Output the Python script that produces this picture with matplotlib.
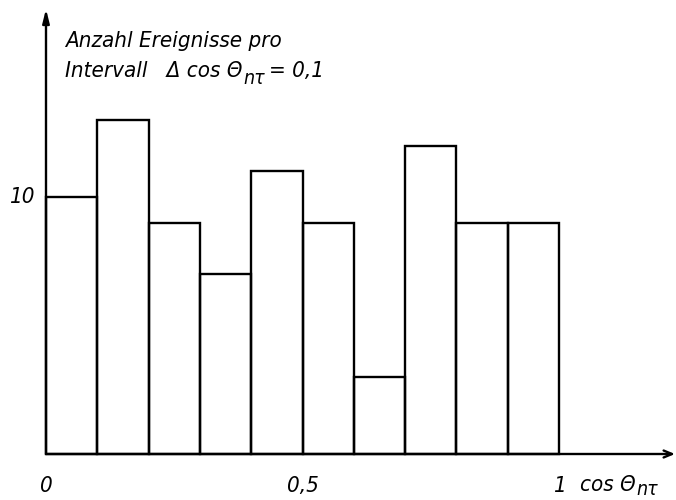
import matplotlib
matplotlib.use("Agg")
import matplotlib.pyplot as plt

# Data
bin_left = [0.0, 0.1, 0.2, 0.3, 0.4, 0.5, 0.6, 0.7, 0.8, 0.9]
counts = [10, 13, 9, 7, 11, 9, 3, 12, 9, 9]
bin_width = 0.1
x_ticks = [0, 0.5, 1]
x_tick_labels = ["0", "0,5", "1"]
y_ticks = [10]
y_tick_labels = ["10"]

plt.rcParams["font.family"] = ["DejaVu Sans"]
plt.rcParams["font.stretch"] = "condensed"

W, H = 676, 500
fig = plt.figure(figsize=(W / 100, H / 100), dpi=100)
x0_px, y0_px = 46, 454
px_per_x = 513.0
px_per_y = 25.7
ax = fig.add_axes([x0_px / W, (H - y0_px) / H, (W - x0_px) / W, y0_px / H])
ax.set_xlim(0, (W - x0_px) / px_per_x)
ax.set_ylim(0, y0_px / px_per_y)
for s in ax.spines.values():
    s.set_visible(False)
ax.set_xticks([])
ax.set_yticks([])
ax.patch.set_alpha(0)

lw = 1.7
ax.bar(bin_left, counts, width=bin_width, align="edge", fill=False,
       edgecolor="black", linewidth=lw, clip_on=False)

xmax = (675 - x0_px) / px_per_x
ymax = (y0_px - 9) / px_per_y
ax.annotate("", xy=(xmax, 0), xytext=(0, 0),
            arrowprops=dict(arrowstyle="->,head_length=0.6,head_width=0.25",
                            lw=lw, color="black", shrinkA=0, shrinkB=0),
            annotation_clip=False)
ax.annotate("", xy=(0, ymax), xytext=(0, 0),
            arrowprops=dict(arrowstyle="-|>,head_length=0.8,head_width=0.2",
                            lw=lw, color="black", shrinkA=0, shrinkB=0),
            annotation_clip=False)

tfs = 16
sfs = 14
kw = dict(fontsize=tfs, style="italic")
for xv, lab in zip(x_ticks, x_tick_labels):
    ax.text(xv, -32 / px_per_y, lab, ha="center", va="center", clip_on=False, **kw)
for yv, lab in zip(y_ticks, y_tick_labels):
    ax.text(-24 / px_per_x, yv, lab, ha="center", va="center", clip_on=False, **kw)

renderer = fig.canvas.get_renderer()


def with_sub(x_fig, y_fig, main, sub, rest="", drop=7):
    t = fig.text(x_fig, y_fig, main, ha="left", va="baseline", **kw)
    bb = t.get_window_extent(renderer)
    x1 = bb.x1 / W
    s = fig.text(x1 + 1 / W, y_fig - drop / H, sub, ha="left", va="baseline",
                 fontsize=sfs, style="italic")
    if rest:
        bb2 = s.get_window_extent(renderer)
        fig.text(bb2.x1 / W + 4 / W, y_fig, rest, ha="left", va="baseline", **kw)


# x axis label
with_sub(580 / W, 1 - 491 / H, "cos \u0398", "n\u03c4", drop=4)

# y axis title
fig.text(65 / W, 1 - 47 / H, "Anzahl Ereignisse pro", ha="left", va="baseline", **kw)
with_sub(65 / W, 1 - 77 / H, "Intervall   \u0394 cos \u0398", "n\u03c4", "= 0,1")

fig.savefig("out.png", dpi=100, facecolor="white")
